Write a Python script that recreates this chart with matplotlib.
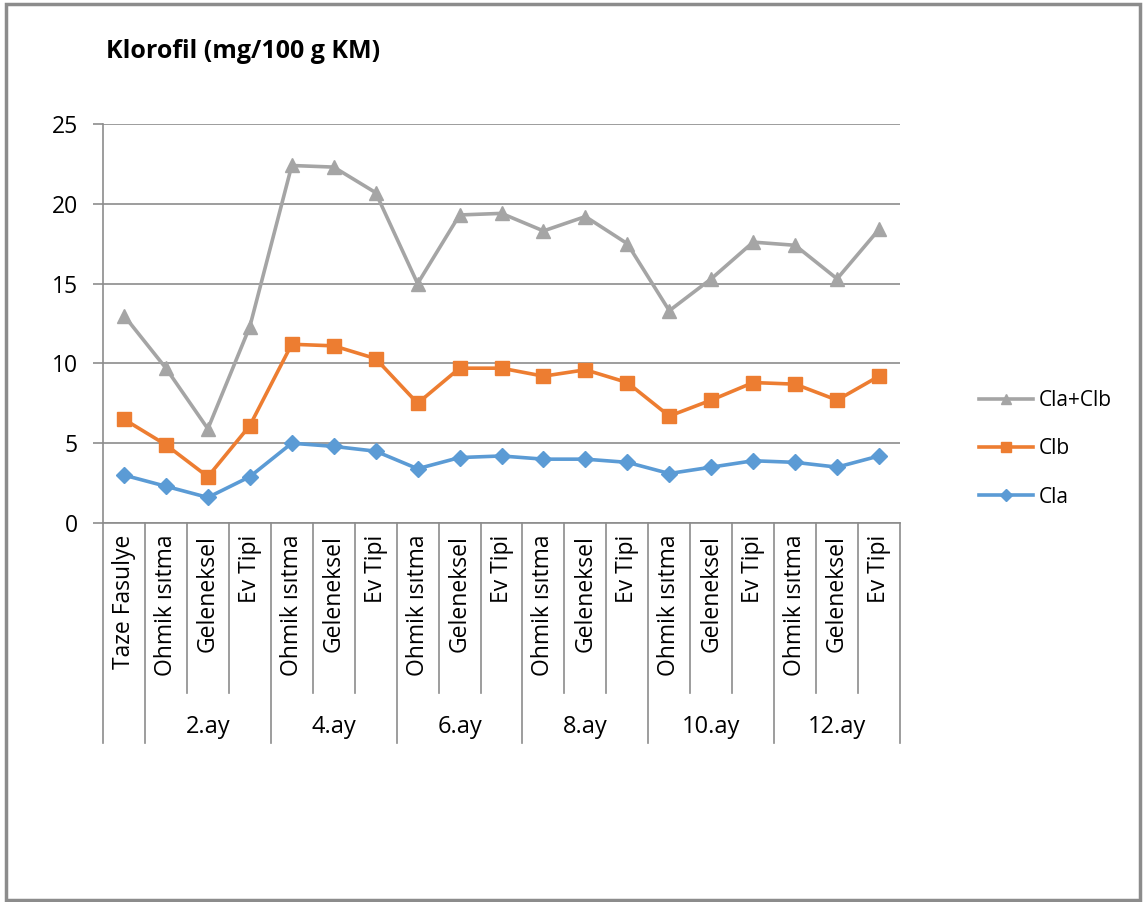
import matplotlib
matplotlib.use("Agg")
import matplotlib.pyplot as plt
from matplotlib.patches import Rectangle
import matplotlib.transforms as mtransforms

plt.rcParams['font.family'] = ['Open Sans', 'DejaVu Sans']

# kategoriler (alt eksen)
kategoriler = ['Taze Fasulye',
               'Ohmik ısıtma', 'Geleneksel', 'Ev Tipi',
               'Ohmik ısıtma', 'Geleneksel', 'Ev Tipi',
               'Ohmik ısıtma', 'Geleneksel', 'Ev Tipi',
               'Ohmik ısıtma', 'Geleneksel', 'Ev Tipi',
               'Ohmik ısıtma', 'Geleneksel', 'Ev Tipi',
               'Ohmik ısıtma', 'Geleneksel', 'Ev Tipi']
gruplar = ['2.ay', '4.ay', '6.ay', '8.ay', '10.ay', '12.ay']

# grafikte gorunen degerler
cla = [3.0, 2.3, 1.6, 2.9, 5.0, 4.8, 4.5, 3.4, 4.1, 4.2,
       4.0, 4.0, 3.8, 3.1, 3.5, 3.9, 3.8, 3.5, 4.2]
clb = [6.5, 4.9, 2.9, 6.1, 11.2, 11.1, 10.3, 7.5, 9.7, 9.7,
       9.2, 9.6, 8.8, 6.7, 7.7, 8.8, 8.7, 7.7, 9.2]
cla_clb = [13.0, 9.7, 5.9, 12.3, 22.4, 22.3, 20.7, 15.0, 19.3, 19.4,
           18.3, 19.2, 17.5, 13.3, 15.3, 17.6, 17.4, 15.3, 18.4]

x = list(range(len(kategoriler)))

fig = plt.figure(figsize=(11.46, 9.02), dpi=100)
ax = fig.add_axes([103/1146, 1-523/902, (900-103)/1146, (523-124)/902])

gri = '#A5A5A5'
turuncu = '#ED7D31'
mavi = '#5B9BD5'
cizgi = '#8C8C8C'

ax.plot(x, cla_clb, color=gri, lw=2.6, marker='^', ms=10.5, label='Cla+Clb', zorder=3)
ax.plot(x, clb, color=turuncu, lw=2.6, marker='s', ms=10, label='Clb', zorder=3)
ax.plot(x, cla, color=mavi, lw=2.6, marker='D', ms=8.5, label='Cla', zorder=3)

ax.set_xlim(-0.5, len(x) - 0.5)
ax.set_ylim(0, 25)
ax.set_yticks([0, 5, 10, 15, 20, 25])
ax.yaxis.grid(True, color=cizgi, lw=1.2)
ax.set_axisbelow(True)
for s in ['top', 'right']:
    ax.spines[s].set_visible(False)
ax.spines['left'].set_color(cizgi)
ax.spines['bottom'].set_color(cizgi)
ax.spines['left'].set_linewidth(1.2)
ax.spines['bottom'].set_linewidth(1.2)
ax.tick_params(axis='y', length=7, width=1.2, color=cizgi, pad=11, labelsize=16.5)
ax.set_xticks([])

# kategori etiketleri ve ayirici cizgiler
tr = mtransforms.blended_transform_factory(ax.transData, ax.transAxes)
for i, k in enumerate(kategoriler):
    ax.text(i, -0.03, k, rotation=90, ha='center', va='top', fontsize=16.5, transform=tr)

sinirlar = [-0.5, 0.5] + [0.5 + 3 * (g + 1) for g in range(len(gruplar))]
for i in range(len(x) + 1):
    b = i - 0.5
    alt = -0.551 if b in sinirlar else -0.426
    ax.plot([b, b], [0, alt], color=cizgi, lw=1.2, transform=tr, clip_on=False)

for g, ad in enumerate(gruplar):
    ax.text(2 + 3 * g, -0.511, ad, ha='center', va='center', fontsize=17, transform=tr)

fig.text(106/1146, 1-52/902, 'Klorofil (mg/100 g KM)', fontsize=18, fontweight='bold', va='center')

ax.legend(loc='center left', bbox_to_anchor=(960/1146, 1-449/902), bbox_transform=fig.transFigure,
          frameon=False, fontsize=15, labelspacing=1.3, handlelength=2.6, handletextpad=0.3,
          markerscale=0.75)

fig.add_artist(Rectangle((6/1146, 2/902), 1134/1146, 896/902, transform=fig.transFigure,
                         fill=False, ec='#8C8C8C', lw=2.5))

plt.savefig('out.png', dpi=100)
